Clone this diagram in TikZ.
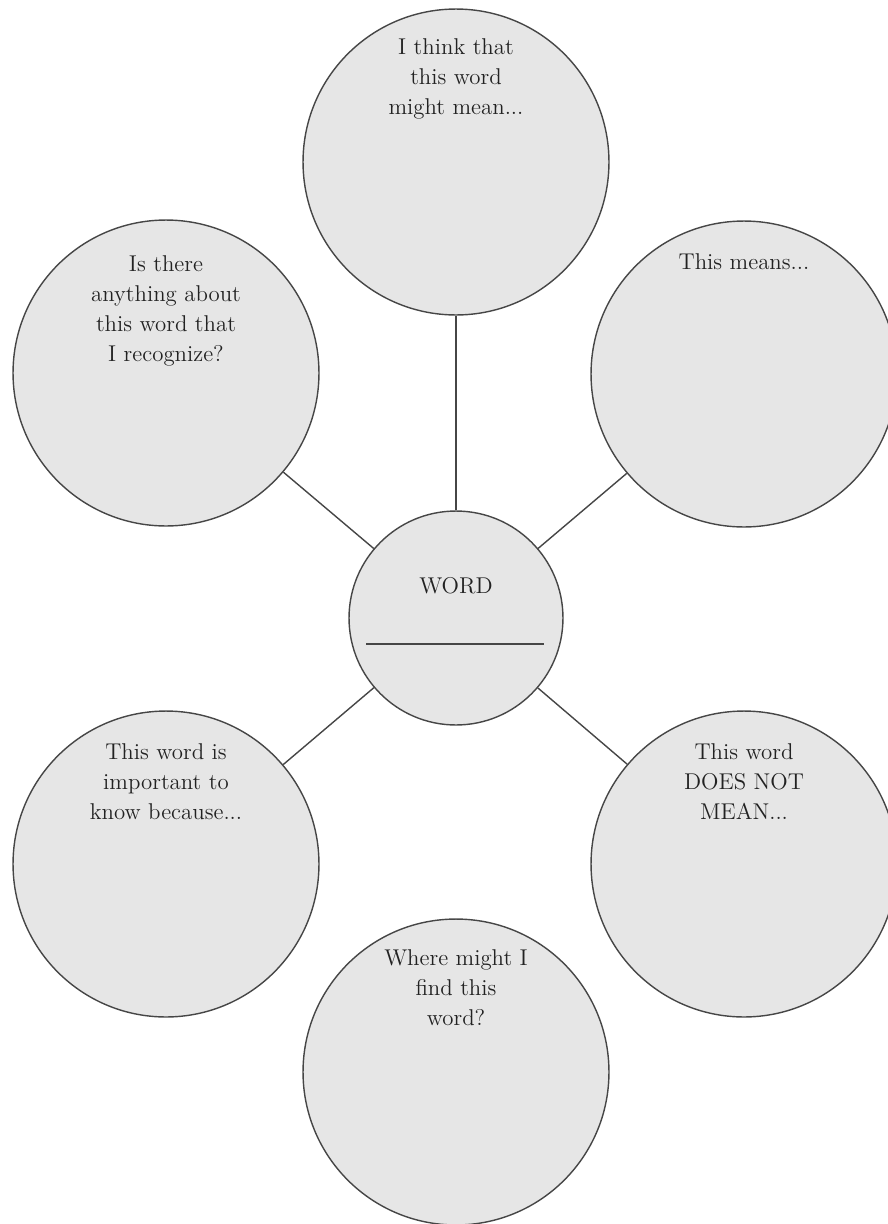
\documentclass[tikz,border=0pt]{standalone}
\usetikzlibrary{positioning}
\definecolor{bubblefill}{HTML}{E6E6E6}
\definecolor{bubbleline}{HTML}{464646}
\definecolor{inktext}{HTML}{222222}
\begin{document}
\begin{tikzpicture}[x=0.02cm, y=-0.02cm,
		bubble/.style={circle, draw=bubbleline, line width=0.8pt, fill=bubblefill, inner sep=0pt, minimum size=6.12cm},
		hub/.style={bubble, minimum size=4.28cm},
		prompt/.style={align=center, inner sep=0pt, text=inktext, font=\fontsize{13}{17}\selectfont},
		spoke/.style={draw=bubbleline, line width=0.8pt}]
		\useasboundingbox (0,0) rectangle (888,1224);
		\clip (0,0) rectangle (888,1224);
		
		% 中心的圆和六个外圆
		\node[hub] (word) at (456,618) {};
		\node[bubble] (think) at (456,162) {};
		\node[bubble] (recog) at (166,373) {};
		\node[bubble] (means) at (744,374) {};
		\node[bubble] (because) at (166,864) {};
		\node[bubble] (notmean) at (744,864) {};
		\node[bubble] (where) at (456,1072) {};
		
		% 连线
		\draw[spoke] (word) -- (think);
		\draw[spoke] (word) -- (recog);
		\draw[spoke] (word) -- (means);
		\draw[spoke] (word) -- (because);
		\draw[spoke] (word) -- (notmean);
		
		% 中心的文字和横线
		\node[prompt, below=1.34cm of word.north] (word-t) {WORD};
		\draw[bubbleline, line width=1pt] (366,644) -- (544,644);
		
		% 外圆里的提示文字
		\node[prompt, below=0.6cm of think.north] (think-t) {I think that\\this word\\might mean...};
		\node[prompt, below=0.72cm of recog.north] (recog-t) {Is there\\anything about\\this word that\\I recognize?};
		\node[prompt, below=0.66cm of means.north] (means-t) {This means...};
		\node[prompt, below=0.66cm of because.north] (because-t) {This word is\\important to\\know because...};
		\node[prompt, below=0.66cm of notmean.north] (notmean-t) {This word\\DOES NOT\\MEAN...};
		\node[prompt, below=0.62cm of where.north] (where-t) {Where might I\\find this\\word?};
	\end{tikzpicture}
\end{document}
